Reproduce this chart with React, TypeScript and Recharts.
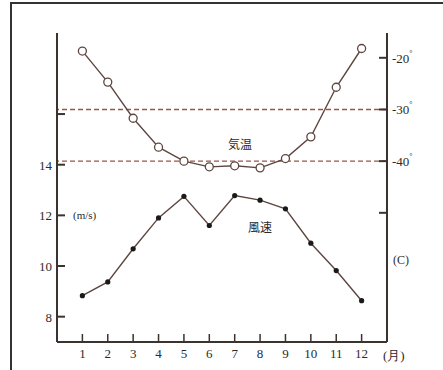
import { LineChart, Line, XAxis, YAxis, ReferenceLine, Label } from "recharts";

const months = [1, 2, 3, 4, 5, 6, 7, 8, 9, 10, 11, 12];
const temperature = [-18.7, -24.7, -31.7, -37.3, -40.0, -41.1, -40.9, -41.3, -39.5, -35.3, -25.7, -18.2];
const windSpeed = [8.83, 9.37, 10.68, 11.9, 12.75, 11.6, 12.78, 12.6, 12.26, 10.9, 9.82, 8.63];
const leftTicks = [8, 10, 12, 14, 16];
const leftTickLabels = ["8", "10", "12", "14", ""];
const rightTicks = [-20, -30, -40, -50];
const rightTickLabels = ["-20", "-30", "-40", ""];
const guideTemps = [-30, -40];

const data = months.map((m, i) => ({ month: m, temp: temperature[i], wind: windSpeed[i] }));

const INK = "#3a3330";
const TEXT = "#2b2b2b";
const LINE = "#5e4640";
const DASH = "#9a5548";
const FONT = "'Liberation Serif', 'DejaVu Serif', serif";
const CJK = "'Noto Sans CJK JP', sans-serif";
const TICK_LEN = 8;

function LeftTick(props: any) {
  const { x, y, payload } = props;
  const idx = leftTicks.indexOf(payload.value);
  const label = idx >= 0 ? leftTickLabels[idx] : "";
  return (
    <g>
      <line x1={x} x2={x + TICK_LEN} y1={y} y2={y} stroke={INK} strokeWidth={2} />
      {label && (
        <text x={x - 5} y={y + 5} textAnchor="end" fontSize={13} fill={TEXT} fontFamily={FONT}>
          {label}
        </text>
      )}
    </g>
  );
}

function RightTick(props: any) {
  const { x, y, payload } = props;
  const idx = rightTicks.indexOf(payload.value);
  const label = idx >= 0 ? rightTickLabels[idx] : "";
  return (
    <g>
      <line x1={x - TICK_LEN} x2={x} y1={y} y2={y} stroke={INK} strokeWidth={2} />
      {label && (
        <text x={x + 5} y={y + 5} textAnchor="start" fontSize={13} fill={TEXT} fontFamily={FONT}>
          {label}
          <tspan dy={-7} fontSize={8}>°</tspan>
        </text>
      )}
    </g>
  );
}

function BottomTick(props: any) {
  const { x, y, payload } = props;
  return (
    <g>
      <line x1={x} x2={x} y1={y - TICK_LEN} y2={y} stroke={INK} strokeWidth={1.5} />
      <text x={x} y={y + 16} textAnchor="middle" fontSize={13} fill={TEXT} fontFamily={FONT}>
        {payload.value}
      </text>
    </g>
  );
}

const OpenDot = (props: any) => {
  const { cx, cy, index } = props;
  return <circle key={index} cx={cx} cy={cy} r={4} fill="#fff" stroke={LINE} strokeWidth={1.3} />;
};

const SolidDot = (props: any) => {
  const { cx, cy, index } = props;
  return <circle key={index} cx={cx} cy={cy} r={2.6} fill="#1a1a1a" />;
};

export default function App() {
  return (
    <div style={{ position: "absolute", left: 0, top: 0, width: 443, height: 370, overflow: "hidden", background: "#fff" }}>
      <div
        style={{
          position: "absolute",
          left: 10,
          top: 2,
          width: 440,
          height: 380,
          border: "2px solid #333",
          boxSizing: "border-box",
        }}
      />
      <div style={{ position: "absolute", left: 0, top: 0 }}>
        <LineChart width={443} height={370} data={data} margin={{ top: 33, right: 0, bottom: 0, left: 0 }}>
          <XAxis
            dataKey="month"
            type="number"
            domain={[0, 13]}
            ticks={months}
            height={28}
            axisLine={{ stroke: INK, strokeWidth: 2 }}
            tickLine={false}
            tickSize={0}
            tickMargin={0}
            tick={<BottomTick />}
            interval={0}
          />
          <YAxis
            yAxisId="wind"
            orientation="left"
            width={57}
            domain={[7, 19.2]}
            ticks={leftTicks}
            allowDataOverflow
            axisLine={{ stroke: INK, strokeWidth: 2 }}
            tickLine={false}
            tickSize={0}
            tickMargin={0}
            tick={<LeftTick />}
            interval={0}
          />
          <YAxis
            yAxisId="temp"
            orientation="right"
            width={56}
            domain={[-75, -15.2]}
            ticks={rightTicks}
            allowDataOverflow
            axisLine={{ stroke: INK, strokeWidth: 2 }}
            tickLine={false}
            tickSize={0}
            tickMargin={0}
            tick={<RightTick />}
            interval={0}
          />
          {guideTemps.map((t) => (
            <ReferenceLine
              key={t}
              yAxisId="temp"
              y={t}
              stroke={DASH}
              strokeWidth={1.4}
              strokeDasharray="5 3"
            />
          ))}
          <ReferenceLine yAxisId="wind" y={12} stroke="none">
            <Label value="(m/s)" position="insideLeft" offset={16} fontSize={11} fill={TEXT} fontFamily={FONT} />
          </ReferenceLine>
          <ReferenceLine yAxisId="temp" y={-59} stroke="none">
            <Label value="(C)" position="right" offset={6} fontSize={12} fill={TEXT} fontFamily={FONT} />
          </ReferenceLine>
          <ReferenceLine yAxisId="wind" y={7} stroke="none">
            <Label value="(月)" position="right" offset={-4} dy={13} fontSize={13} fill={TEXT} fontFamily={FONT} />
          </ReferenceLine>
          <Line
            yAxisId="temp"
            dataKey="temp"
            stroke={LINE}
            strokeWidth={1.4}
            dot={<OpenDot />}
            isAnimationActive={false}
          />
          <Line
            yAxisId="wind"
            dataKey="wind"
            stroke={LINE}
            strokeWidth={1.4}
            dot={<SolidDot />}
            isAnimationActive={false}
          />
          <ReferenceLine yAxisId="temp" y={-36.8} stroke="none">
            <Label value="気温" position="center" dx={18} fontSize={12} fill={TEXT} fontFamily={CJK} />
          </ReferenceLine>
          <ReferenceLine yAxisId="wind" y={11.5} stroke="none">
            <Label value="風速" position="center" dx={38} fontSize={12} fill={TEXT} fontFamily={CJK} />
          </ReferenceLine>
        </LineChart>
      </div>
    </div>
  );
}
